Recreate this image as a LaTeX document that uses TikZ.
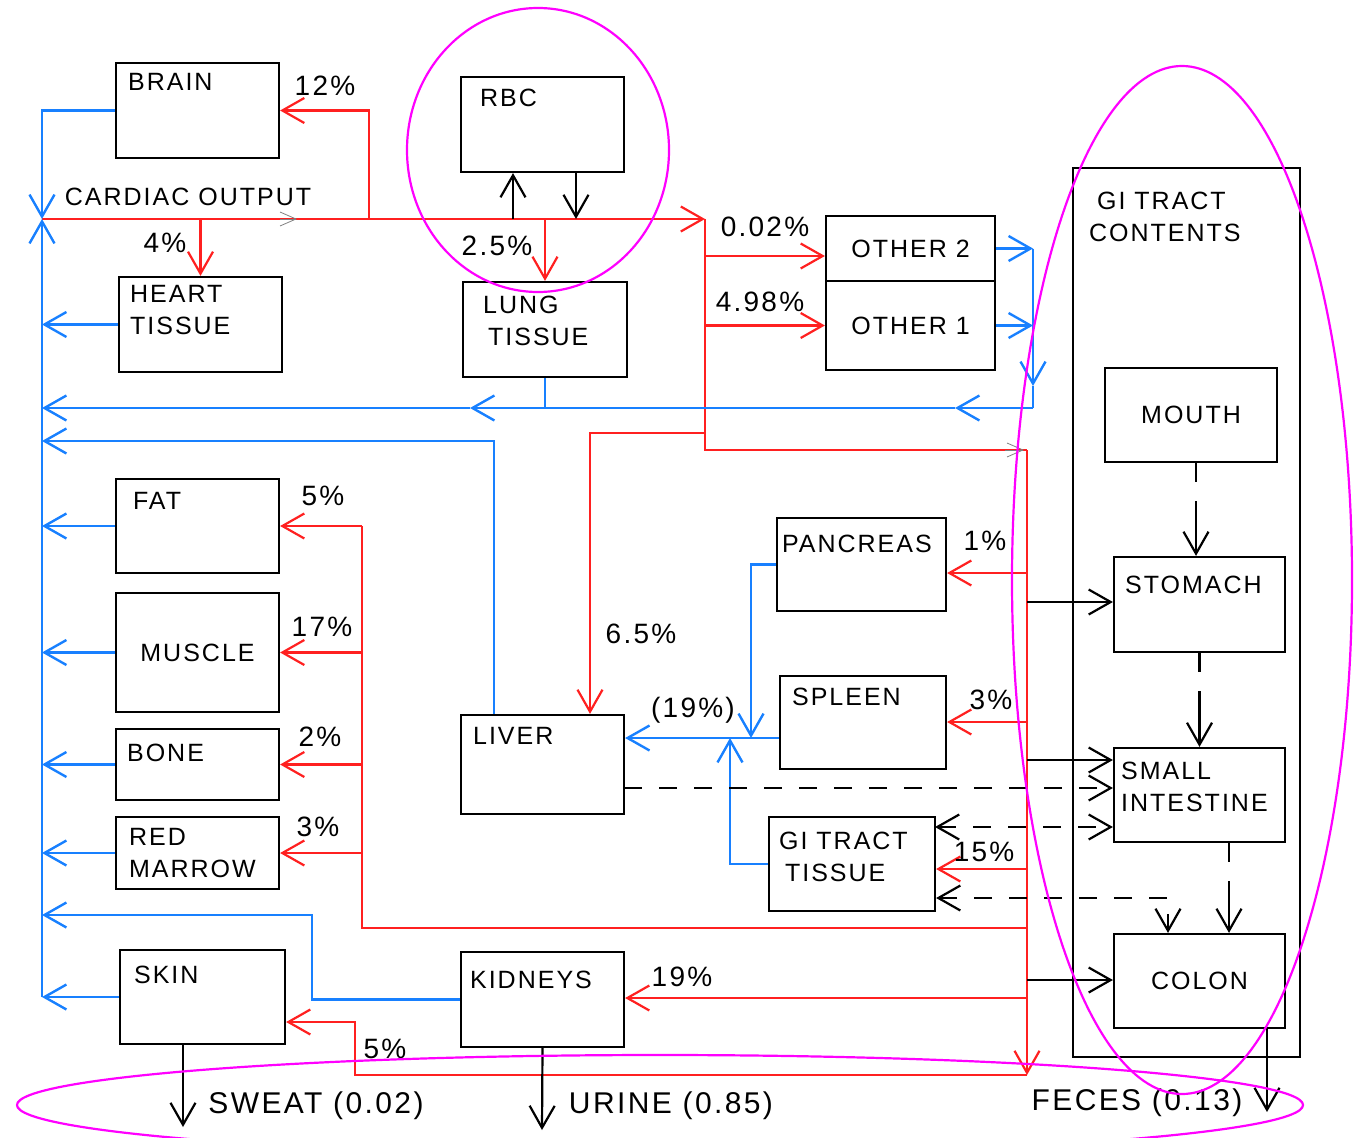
\documentclass[tikz,border=0pt]{standalone}
\usepackage{fontspec}
\setmainfont{Liberation Sans}[LetterSpace=8]
\usepackage{tikz}
\usetikzlibrary{arrows.meta,calc,positioning}
\definecolor{art}{RGB}{255,32,32}
\definecolor{ven}{RGB}{24,128,255}
\definecolor{ring}{RGB}{255,0,255}
\newcommand{\organfont}{\fontsize{25}{32}\selectfont}
\newcommand{\pctfont}{\fontsize{28}{32}\selectfont}
\newcommand{\outfont}{\fontsize{30}{34}\selectfont}
\tikzstyle{organ} = [rectangle, draw, line width=2.2pt, inner sep=0pt, font=\organfont]
\tikzstyle{tag} = [anchor=north west, inner sep=0pt, align=left, font=\organfont]
\tikzstyle{pct} = [inner sep=0pt, font=\pctfont]
\tikzstyle{arterial} = [draw=art, line width=2.2pt]
\tikzstyle{venous} = [draw=ven, line width=2.4pt]
\tikzstyle{gut} = [draw=black, line width=2.2pt]
\tikzstyle{seq} = [gut, dash pattern=on 19pt off 19pt on 300pt]
\tikzstyle{bilepath} = [gut, dash pattern=on 18pt off 17pt]
\tikzstyle{ghost} = [draw=gray, line width=0.8pt, -{Straight Barb[length=16pt,width=14pt]}]

\begin{document}
\begin{tikzpicture}[x=1pt,y=-1pt,>={Straight Barb[length=22pt,width=25pt]}]
  \useasboundingbox (0,0) rectangle (1356,1137);

  % organs
  \node[organ, minimum width=163pt, minimum height=95pt,
        label={[tag,xshift=13pt,yshift=-11pt]north west:BRAIN}] (brain) at (197.5,110.5) {};
  \node[organ, minimum width=163pt, minimum height=95pt,
        label={[tag,xshift=12pt,yshift=-9pt]north west:{HEART\\TISSUE}}] (heart) at (200.5,324.5) {};
  \node[organ, minimum width=163pt, minimum height=95pt,
        label={[tag,xshift=20pt,yshift=-13pt]north west:RBC}] (rbc) at (542.5,124.5) {};
  \node[organ, minimum width=164pt, minimum height=95pt,
        label={[tag,xshift=21pt,yshift=-15pt]north west:{LUNG\\\hspace*{5pt}TISSUE}}] (lung) at (545,329.5) {};
  \node[organ, minimum width=169pt, minimum height=65pt] (other2) at (910.5,248.5) {OTHER 2};
  \node[organ, minimum width=169pt, minimum height=89pt] (other1) at (910.5,325.5) {OTHER 1};
  \node[organ, minimum width=227pt, minimum height=889pt,
        label={[tag,xshift=17pt,yshift=-25pt]north west:{\hspace*{8pt}GI TRACT\\CONTENTS}}] (gitc) at (1186.5,612.5) {};
  \node[organ, minimum width=172pt, minimum height=94pt] (mouth) at (1191,415) {MOUTH};
  \node[organ, minimum width=171pt, minimum height=95pt,
        label={[tag,xshift=12pt,yshift=-20pt]north west:STOMACH}] (stomach) at (1199.5,604.5) {};
  \node[organ, minimum width=171pt, minimum height=94pt,
        label={[tag,xshift=8pt,yshift=-15pt]north west:{SMALL\\INTESTINE}}] (smint) at (1199.5,795) {};
  \node[organ, minimum width=171pt, minimum height=94pt] (colon) at (1199.5,981) {COLON};
  \node[organ, minimum width=163pt, minimum height=94pt,
        label={[tag,xshift=18pt,yshift=-14pt]north west:FAT}] (fat) at (197.5,526) {};
  \node[organ, minimum width=163pt, minimum height=119pt] (muscle) at (197.5,652.5) {MUSCLE};
  \node[organ, minimum width=163pt, minimum height=71pt,
        label={[tag,xshift=12pt,yshift=-16pt]north west:BONE}] (bone) at (197.5,764.5) {};
  \node[organ, minimum width=163pt, minimum height=72pt,
        label={[tag,xshift=14pt,yshift=-12pt]north west:{RED\\MARROW}}] (marrow) at (197.5,853) {};
  \node[organ, minimum width=165pt, minimum height=94pt,
        label={[tag,xshift=15pt,yshift=-17pt]north west:SKIN}] (skin) at (202.5,997) {};
  \node[organ, minimum width=163pt, minimum height=95pt,
        label={[tag,xshift=10pt,yshift=-20pt]north west:KIDNEYS}] (kidneys) at (542.5,999.5) {};
  \node[organ, minimum width=163pt, minimum height=99pt,
        label={[tag,xshift=13pt,yshift=-13pt]north west:LIVER}] (liver) at (542.5,764.5) {};
  \node[organ, minimum width=169pt, minimum height=93pt,
        label={[tag,xshift=6pt,yshift=-18pt]north west:PANCREAS}] (pancreas) at (861.5,564.5) {};
  \node[organ, minimum width=166pt, minimum height=93pt,
        label={[tag,xshift=13pt,yshift=-13pt]north west:SPLEEN}] (spleen) at (863,722.5) {};
  \node[organ, minimum width=166pt, minimum height=94pt,
        label={[tag,xshift=11pt,yshift=-16pt]north west:{GI TRACT\\\hspace*{6pt}TISSUE}}] (gitt) at (852,864) {};

  % junctions
  \coordinate (cv) at (42,219);
  \coordinate (ao) at (705,219);
  \coordinate (abr) at (369,219);
  \coordinate (ad) at (705,450);
  \coordinate (ar) at (1027,450);
  \coordinate (arb) at (1027,1075);
  \coordinate (sk) at (355,1022);
  \coordinate (o2) at (705,256);
  \coordinate (ha) at (590,433);
  \coordinate (pb) at (362,928);
  \coordinate (ov) at (1033,408);
  \coordinate (ovd) at (1033,386);
  \coordinate (ov1) at (955,408);
  \coordinate (ov2) at (470,408);
  \coordinate (hv) at (494,441);
  \coordinate (rv) at (312,915);
  \coordinate (pv) at (751,738);
  \coordinate (pv2) at (730,738);
  \coordinate (rbcin) at ($(rbc.south)+(-29.5,0)$);
  \coordinate (rbcout) at ($(rbc.south)+(33.5,0)$);
  \coordinate (tpan) at (1027,573);
  \coordinate (tspl) at (1027,722);
  \coordinate (tgit) at (1027,869);
  \coordinate (tkid) at (1027,998);
  \coordinate (tsto) at (1027,602);
  \coordinate (tsi) at (1027,760);
  \coordinate (tcol) at (1027,980);
  \coordinate (mo) at ($(mouth.south)+(5,0)$);
  \coordinate (sc) at ($(smint.south)+(29.5,0)$);
  \coordinate (bl) at (624,788);
  \coordinate (gs) at (935,827);
  \coordinate (gc) at (1168,898);
  \coordinate (feces) at (1267,1112);
  \coordinate (sweat) at (183,1127);
  \coordinate (urine) at (542,1130);
  \coordinate (g1) at (280,219);
  \coordinate (g2) at (297,219);
  \coordinate (g3) at (1005,450);
  \coordinate (g4) at (1024,450);

  % cardiac output
  \draw[arterial,->] (cv) -- (ao);
  \draw[ghost] (g1) -- (g2);
  \draw[arterial,->] (abr) |- (brain.east);
  \draw[arterial,->] (heart.north |- cv) -- (heart.north);
  \draw[arterial,->] (lung.north |- cv) -- (lung.north);
  \draw[gut,->] (rbcin |- cv) -- (rbcin);
  \draw[gut,->] (rbcout) -- (rbcout |- cv);
  \draw[arterial] (ao) -- (ad) -- (ar);
  \draw[ghost] (g3) -- (g4);
  \draw[arterial,->] (o2) -- (o2 -| other2.west);
  \draw[arterial,->] (ao |- other1.west) -- (other1.west);
  \draw[arterial,->] (ha -| ao) -- (ha) -- (ha |- liver.north);
  \draw[arterial,->] (ar) -- (arb);
  \draw[arterial,->] (arb) -| (sk) -- (sk -| skin.east);
  \draw[arterial,->] (tpan) -- (tpan -| pancreas.east);
  \draw[arterial,->] (tspl) -- (tspl -| spleen.east);
  \draw[arterial,->] (tgit) -- (tgit -| gitt.east);
  \draw[arterial,->] (tkid) -- (tkid -| kidneys.east);
  \draw[arterial] (pb -| ar) -- (pb) -- (pb |- fat.east);
  \foreach \o in {fat,muscle,bone,marrow}
    \draw[arterial,->] (pb |- \o.east) -- (\o.east);

  % venous return
  \draw[venous,->] (brain.west) -| (cv);
  \draw[venous,->] (skin.west -| cv) -- (cv);
  \foreach \o in {heart,fat,muscle,bone,marrow,skin}
    \draw[venous,->] (\o.west) -- (\o.west -| cv);
  \draw[venous,->] (other2.east) -- (other2.east -| ov);
  \draw[venous,->] (other1.east) -- (other1.east -| ov);
  \draw[venous,->] (other2.east -| ov) -- (ovd);
  \draw[venous] (ovd) -- (ov);
  \draw[venous] (lung.south) -- (lung.south |- ov);
  \draw[venous,->] (ov) -- (ov1);
  \draw[venous,->] (ov1) -- (ov2);
  \draw[venous,->] (ov2) -- (ov2 -| cv);
  \draw[venous,->] (hv |- liver.north) -- (hv) -- (hv -| cv);
  \draw[venous,->] (kidneys.west) -| (rv) -- (rv -| cv);
  \draw[venous,->] (pancreas.west) -| (pv);
  \draw[venous,->] (pv -| spleen.west) -- (pv -| liver.east);
  \draw[venous,->] (gitt.west) -| (pv2);

  % gut contents
  \draw[gut,->] (tsto) -- (tsto -| stomach.west);
  \draw[gut,->] (tsi) -- (tsi -| smint.west);
  \draw[gut,->] (tcol) -- (tcol -| colon.west);
  \draw[seq,->] (mo) -- (mo |- stomach.north);
  \draw[seq,->] (stomach.south) -- (smint.north);
  \draw[seq,->] (sc) -- (sc |- colon.north);
  \draw[bilepath,->] (bl) -- (bl -| smint.west);
  \draw[bilepath,<->] (gs) -- (gs -| smint.west);
  \draw[bilepath,<->] (gc -| gitt.east) -- (gc) -- (gc |- colon.north);
  \draw[gut,->] (colon.south -| feces) -- (feces);
  \draw[gut,->] (skin.south -| sweat) -- (sweat);
  \draw[gut,->] (kidneys.south) -- (urine);

  % labels
  \node[inner sep=0pt, font=\organfont] (colabel) at (188,197) {CARDIAC OUTPUT};
  \node[pct] (p12) at (325,86) {12\%};
  \node[pct] (p4) at (165,243) {4\%};
  \node[pct] (p25) at (497,246) {2.5\%};
  \node[pct] (p002) at (765,227) {0.02\%};
  \node[pct] (p498) at (760,302) {4.98\%};
  \node[pct] (p65) at (641,634) {6.5\%};
  \node[pct] (p19p) at (693,710) {(19\%)};
  \node[pct] (p1) at (985,541) {1\%};
  \node[pct] (p3s) at (991,700) {3\%};
  \node[pct] (p15) at (984,852) {15\%};
  \node[pct] (p5f) at (323,496) {5\%};
  \node[pct] (p17) at (322,627) {17\%};
  \node[pct] (p2) at (320,737) {2\%};
  \node[pct] (p3m) at (318,827) {3\%};
  \node[pct] (p19k) at (682,977) {19\%};
  \node[pct] (p5s) at (385,1049) {5\%};
  \node[pct, font=\outfont] (lsweat) at (316,1106) {SWEAT (0.02)};
  \node[pct, font=\outfont] (lurine) at (671,1106) {URINE (0.85)};
  \node[pct, font=\outfont] (lfeces) at (1137,1103) {FECES (0.13)};

  % highlighted groups
  \begin{scope}
    \clip (0,0) rectangle (1356,1137);
    \draw[ring, line width=2.2pt] (538,150) ellipse [x radius=131pt, y radius=142pt];
    \draw[ring, line width=2.2pt] (1182,580) ellipse [x radius=170pt, y radius=514pt];
    \draw[ring, line width=2.2pt] (660,1105) ellipse [x radius=643pt, y radius=50pt];
  \end{scope}
\end{tikzpicture}
\end{document}
